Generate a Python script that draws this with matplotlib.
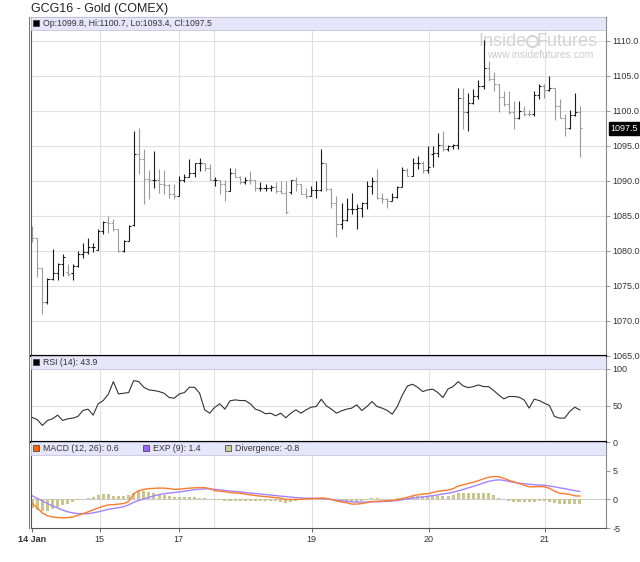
import numpy as np
import matplotlib
matplotlib.use("Agg")
import matplotlib.pyplot as plt
import matplotlib.transforms as mtransforms
from matplotlib.patches import Rectangle
from matplotlib.lines import Line2D
from matplotlib.ticker import FormatStrFormatter

plt.rcParams['font.family'] = ['Liberation Sans', 'DejaVu Sans']
plt.rcParams['axes.unicode_minus'] = False

# hourly OHLC bars, 14 Jan - 21 Jan
opens = [1082.0, 1081.8, 1077.6, 1072.7, 1076.0, 1076.8, 1078.2, 1077.0, 1076.8, 1077.9,
         1079.5, 1079.8, 1080.5, 1080.2, 1082.8, 1084.2, 1084.0, 1083.1, 1080.0, 1081.4,
         1083.7, 1093.9, 1093.2, 1090.3, 1090.1, 1090.1, 1089.6, 1089.4, 1088.1, 1087.9,
         1090.1, 1090.5, 1091.2, 1092.5, 1092.6, 1091.8, 1090.1, 1090.1, 1089.5, 1088.6,
         1091.1, 1090.5, 1089.8, 1090.2, 1090.1, 1089.0, 1089.0, 1089.0, 1089.2, 1088.6,
         1088.3, 1088.4, 1090.1, 1089.5, 1088.1, 1087.9, 1088.7, 1088.7, 1092.6, 1088.8,
         1086.9, 1083.8, 1084.4, 1086.0, 1086.0, 1086.1, 1086.8, 1089.3, 1090.0, 1087.5,
         1087.4, 1087.2, 1087.7, 1089.1, 1091.5, 1090.7, 1092.6, 1092.6, 1091.5, 1093.8,
         1094.0, 1095.2, 1094.5, 1095.0, 1095.2, 1101.8, 1099.8, 1101.2, 1102.1, 1103.6,
         1106.2, 1104.5, 1103.9, 1102.0, 1101.0, 1099.8, 1099.0, 1100.0, 1099.6, 1099.5,
         1102.3, 1103.6, 1103.0, 1103.3, 1100.7, 1099.0, 1097.5, 1099.4, 1099.8]
highs = [1083.6, 1081.9, 1077.6, 1076.2, 1080.3, 1078.3, 1079.5, 1078.2, 1078.2, 1080.0,
         1081.2, 1081.9, 1081.2, 1083.1, 1084.3, 1085.0, 1084.5, 1083.1, 1081.5, 1083.7,
         1097.2, 1097.5, 1094.6, 1091.5, 1094.3, 1091.7, 1091.5, 1089.5, 1089.5, 1090.7,
         1091.0, 1093.1, 1092.6, 1093.3, 1092.6, 1092.4, 1090.5, 1090.2, 1090.2, 1091.9,
         1091.9, 1090.7, 1090.5, 1091.4, 1090.1, 1089.8, 1089.5, 1089.4, 1089.8, 1090.0,
         1090.0, 1090.2, 1090.5, 1089.5, 1089.0, 1089.3, 1090.0, 1094.5, 1092.6, 1089.0,
         1087.9, 1086.8, 1087.6, 1088.3, 1086.7, 1087.0, 1090.0, 1090.6, 1091.7, 1088.3,
         1087.6, 1088.3, 1089.3, 1092.0, 1091.8, 1093.3, 1093.6, 1092.9, 1095.0, 1095.0,
         1096.9, 1097.1, 1095.2, 1095.3, 1103.3, 1103.3, 1102.6, 1103.1, 1104.4, 1110.2,
         1107.2, 1105.6, 1103.9, 1102.8, 1102.8, 1101.4, 1101.4, 1100.7, 1100.2, 1102.9,
         1103.8, 1103.8, 1105.0, 1103.3, 1101.7, 1099.5, 1100.2, 1102.6, 1100.7]
lows = [1081.3, 1076.3, 1071.0, 1072.4, 1075.9, 1075.9, 1076.4, 1076.4, 1075.8, 1077.7,
        1079.0, 1079.6, 1079.8, 1080.1, 1082.4, 1082.6, 1082.8, 1079.8, 1079.9, 1081.4,
        1083.6, 1091.0, 1086.7, 1087.4, 1089.0, 1088.3, 1088.2, 1087.6, 1087.4, 1087.8,
        1089.9, 1090.5, 1090.5, 1091.4, 1091.4, 1090.1, 1089.3, 1088.1, 1087.2, 1088.5,
        1090.5, 1089.5, 1089.5, 1089.5, 1088.6, 1088.6, 1088.6, 1088.5, 1088.3, 1088.3,
        1085.3, 1088.1, 1088.6, 1088.1, 1087.5, 1087.9, 1087.5, 1088.6, 1088.6, 1086.2,
        1082.0, 1083.1, 1084.3, 1085.3, 1083.1, 1084.8, 1086.0, 1088.1, 1087.4, 1086.8,
        1086.2, 1087.1, 1087.6, 1089.1, 1090.7, 1090.7, 1091.7, 1091.2, 1091.2, 1092.0,
        1093.4, 1094.3, 1094.3, 1094.5, 1094.5, 1097.4, 1097.2, 1101.0, 1101.7, 1103.1,
        1104.3, 1102.8, 1099.8, 1100.7, 1099.5, 1097.4, 1098.8, 1099.3, 1099.3, 1099.3,
        1101.7, 1101.8, 1102.9, 1098.7, 1099.0, 1096.4, 1097.4, 1099.3, 1093.4]
closes = [1081.8, 1077.6, 1072.7, 1076.0, 1076.8, 1078.2, 1079.1, 1076.7, 1077.9, 1079.5,
          1079.8, 1080.5, 1080.6, 1082.8, 1084.2, 1084.0, 1083.1, 1080.0, 1081.4, 1083.6,
          1093.9, 1093.2, 1090.3, 1090.1, 1090.1, 1089.6, 1089.4, 1088.1, 1087.9, 1090.1,
          1090.5, 1091.2, 1092.5, 1092.6, 1091.8, 1090.1, 1090.1, 1089.5, 1088.6, 1091.1,
          1090.5, 1089.8, 1090.2, 1090.1, 1089.0, 1089.0, 1089.0, 1089.2, 1088.6, 1088.3,
          1085.5, 1090.1, 1089.5, 1088.1, 1087.9, 1088.7, 1088.7, 1092.6, 1088.8, 1086.9,
          1083.8, 1084.4, 1086.0, 1086.0, 1086.1, 1086.8, 1089.3, 1090.0, 1087.5, 1087.4,
          1087.2, 1087.7, 1089.1, 1091.5, 1090.7, 1092.6, 1092.6, 1091.5, 1092.0, 1094.0,
          1095.2, 1094.5, 1095.0, 1095.2, 1101.8, 1099.8, 1101.2, 1102.1, 1103.6, 1106.2,
          1104.5, 1103.9, 1102.0, 1101.0, 1099.8, 1099.0, 1100.0, 1099.6, 1099.5, 1102.3,
          1103.6, 1103.0, 1103.3, 1100.7, 1099.0, 1097.5, 1099.4, 1099.9, 1097.5]

rsi = [33.6, 30.5, 22.7, 29.5, 31.8, 36.8, 29.5, 31.8, 32.7, 35.0,
       43.2, 45.0, 36.8, 52.3, 56.8, 65.5, 82.7, 65.9, 66.8, 67.7,
       84.1, 82.7, 75.0, 71.4, 70.5, 69.1, 66.8, 60.9, 60.0, 65.9,
       67.7, 75.0, 75.0, 66.8, 44.1, 39.5, 47.7, 52.3, 45.0, 56.4,
       57.7, 56.8, 56.8, 52.3, 45.0, 42.7, 38.6, 39.5, 35.9, 39.5,
       33.2, 39.5, 44.1, 39.5, 44.1, 47.7, 48.6, 58.6, 49.5, 45.0,
       39.5, 42.7, 45.0, 46.4, 50.9, 43.2, 48.6, 55.5, 48.6, 46.4,
       43.2, 38.2, 48.6, 64.5, 76.8, 79.1, 75.0, 69.1, 71.4, 72.3,
       67.7, 60.9, 72.7, 75.9, 82.7, 76.8, 74.5, 75.9, 78.2, 75.9,
       75.9, 70.5, 64.5, 59.1, 62.3, 62.3, 61.4, 57.7, 46.4, 58.6,
       56.8, 53.2, 50.0, 35.0, 32.7, 32.7, 41.8, 47.7, 43.9]

macd = [-0.72, -1.49, -2.40, -2.85, -3.08, -3.17, -3.21, -3.17, -3.08, -2.76,
        -2.49, -2.17, -1.81, -1.49, -1.18, -0.95, -0.90, -0.81, -0.72, -0.36,
        1.00, 1.54, 1.76, 1.90, 1.95, 1.99, 1.99, 1.90, 1.76, 1.81,
        1.90, 1.99, 2.04, 2.08, 2.08, 1.90, 1.54, 1.45, 1.36, 1.22,
        1.13, 1.09, 0.95, 0.81, 0.68, 0.59, 0.50, 0.41, 0.32, 0.23,
        0.00, 0.00, 0.00, 0.05, 0.09, 0.14, 0.18, 0.27, 0.18, 0.00,
        -0.27, -0.45, -0.59, -0.81, -0.81, -0.72, -0.54, -0.36, -0.32, -0.27,
        -0.23, -0.18, -0.05, 0.18, 0.36, 0.63, 0.81, 0.95, 1.00, 1.22,
        1.45, 1.54, 1.63, 1.90, 2.35, 2.58, 2.81, 3.03, 3.30, 3.62,
        3.89, 4.03, 3.98, 3.71, 3.35, 3.08, 2.81, 2.49, 2.22, 2.22,
        2.26, 2.22, 1.95, 1.45, 1.09, 1.00, 0.90, 0.63, 0.60]
signal = [0.63, 0.18, -0.27, -0.72, -1.13, -1.49, -1.86, -2.17, -2.35, -2.49,
          -2.53, -2.49, -2.35, -2.17, -1.95, -1.72, -1.58, -1.45, -1.27, -0.95,
          -0.50, -0.18, 0.09, 0.36, 0.63, 0.86, 1.00, 1.13, 1.22, 1.31,
          1.45, 1.58, 1.72, 1.81, 1.86, 1.86, 1.76, 1.67, 1.58, 1.49,
          1.40, 1.31, 1.22, 1.13, 1.04, 0.95, 0.86, 0.77, 0.68, 0.59,
          0.50, 0.41, 0.32, 0.27, 0.23, 0.23, 0.18, 0.14, 0.09, 0.00,
          -0.14, -0.23, -0.32, -0.41, -0.45, -0.45, -0.45, -0.41, -0.41, -0.36,
          -0.32, -0.27, -0.18, -0.05, 0.09, 0.23, 0.36, 0.45, 0.54, 0.68,
          0.81, 0.95, 1.09, 1.27, 1.49, 1.76, 2.04, 2.31, 2.58, 2.90,
          3.17, 3.35, 3.44, 3.35, 3.17, 2.99, 2.85, 2.76, 2.67, 2.58,
          2.53, 2.49, 2.35, 2.22, 2.04, 1.90, 1.72, 1.54, 1.40]
divergence = [-1.49, -1.81, -2.04, -2.04, -1.72, -1.40, -1.04, -0.72, -0.36, -0.14,
              0.09, 0.18, 0.41, 0.77, 0.90, 0.90, 0.63, 0.63, 0.63, 0.77,
              1.22, 1.67, 1.54, 1.36, 1.22, 1.00, 0.77, 0.54, 0.45, 0.45,
              0.45, 0.41, 0.36, 0.32, 0.23, 0.00, -0.09, -0.18, -0.23, -0.23,
              -0.23, -0.23, -0.27, -0.27, -0.27, -0.27, -0.27, -0.27, -0.27, -0.36,
              -0.59, -0.36, -0.23, -0.18, -0.14, -0.09, 0.00, 0.18, 0.18, 0.00,
              -0.23, -0.45, -0.50, -0.50, -0.36, -0.27, -0.14, 0.18, 0.18, 0.09,
              0.09, 0.00, 0.18, 0.32, 0.41, 0.54, 0.63, 0.63, 0.63, 0.68,
              0.63, 0.54, 0.54, 0.77, 1.09, 1.09, 1.13, 1.13, 1.18, 1.22,
              1.18, 0.86, 0.32, 0.00, -0.23, -0.36, -0.45, -0.50, -0.50, -0.36,
              -0.23, -0.23, -0.36, -0.59, -0.72, -0.81, -0.81, -0.81, -0.80]

# day boundaries (in bar units) and their labels
day_pos = [0, 13.3, 28.9, 35.8, 55.1, 78.2, 101.1]
label_pos = [0, 13.3, 28.9, 55.1, 78.2, 101.1]
label_txt = ['14 Jan', '15', '17', '19', '20', '21']

W, H = 640, 562
LEFT, RIGHT = 31, 606

fig = plt.figure(figsize=(W / 100, H / 100), dpi=100)


def box(top, bottom):
    return [LEFT / W, 1 - bottom / H, (RIGHT - LEFT) / W, (bottom - top) / H]


ax_p = fig.add_axes(box(17, 356))
ax_r = fig.add_axes(box(356, 442), sharex=ax_p)
ax_m = fig.add_axes(box(442, 528), sharex=ax_p)

x = np.arange(len(closes))


def setup(ax, top, bottom):
    for s in ax.spines.values():
        s.set_color('#888888')
        s.set_linewidth(0.8)
    ax.yaxis.tick_right()
    ax.tick_params(axis='y', length=3, width=0.6, colors='#888888',
                   labelcolor='#333333', labelsize=6.5, pad=1.5)
    ax.tick_params(axis='x', length=0, labelbottom=False)
    for d in day_pos[1:]:
        ax.axvline(d, color='#e0e0e0', lw=0.8, zorder=0)
    frac = 12.5 / (bottom - top)
    ax.add_patch(Rectangle((0, 1 - frac), 1, frac, transform=ax.transAxes,
                           facecolor='#e6e6fa', edgecolor='#c4c4dc', lw=0.6, zorder=4))
    return 1 - frac / 2


def header(ax, yc, items):
    for px, col, txt in items:
        xf = (px - LEFT) / (RIGHT - LEFT)
        ax.plot([xf], [yc], marker='s', ms=4, color=col, mec='#333333', mew=0.5,
                transform=ax.transAxes, clip_on=False, zorder=6)
        ax.text(xf + 7 / (RIGHT - LEFT), yc, txt, transform=ax.transAxes, fontsize=6.3,
                color='#333333', va='center', ha='left', zorder=6)


# price panel
yc = setup(ax_p, 17, 356)
ax_p.set_ylim(1065, 1065 + 339 / 7)
ax_p.set_yticks(np.arange(1065, 1111, 5))
ax_p.yaxis.set_major_formatter(FormatStrFormatter('%.1f'))
for v in np.arange(1070, 1111, 5):
    ax_p.axhline(v, color='#e0e0e0', lw=0.8, zorder=0)

cols = ['#1a1a1a' if c >= o else '#9a9a9a' for o, c in zip(opens, closes)]
ax_p.vlines(x, lows, highs, colors=cols, lw=0.8, zorder=2)
ax_p.hlines(opens, x - 0.4, x, colors=cols, lw=0.8, zorder=2)
ax_p.hlines(closes, x, x + 0.4, colors=cols, lw=0.8, zorder=2)
header(ax_p, yc, [(36, 'black', 'Op:%.1f, Hi:%.1f, Lo:%.1f, Cl:%.1f'
                   % (opens[-1], highs[-1], lows[-1], closes[-1]))])

tr = mtransforms.blended_transform_factory(ax_p.transAxes, ax_p.transData)
ax_p.text(1.008, closes[-1], '%.1f' % closes[-1], transform=tr, fontsize=6.5, color='white',
          va='center', ha='left', clip_on=False,
          bbox=dict(facecolor='black', edgecolor='black', pad=1.2))

# watermark
def axf(ax, px, py, top, bottom):
    return (px - LEFT) / (RIGHT - LEFT), (bottom - py) / (bottom - top)

wx, wy = axf(ax_p, 527, 41, 17, 356)
ax_p.text(wx, wy, 'Inside', transform=ax_p.transAxes, fontsize=13, color='#d4d4d4',
          ha='right', va='center', zorder=1)
ax_p.text(wx + 10 / 575, wy, 'Futures', transform=ax_p.transAxes, fontsize=13, color='#d4d4d4',
          ha='left', va='center', zorder=1)
ax_p.plot([wx + 5 / 575], [wy], marker='o', ms=8, mfc='none', mec='#d4d4d4', mew=1.5,
          transform=ax_p.transAxes, zorder=1)
wx2, wy2 = axf(ax_p, 540, 55, 17, 356)
ax_p.text(wx2, wy2, 'www.insidefutures.com', transform=ax_p.transAxes, fontsize=7.5,
          color='#cccccc', ha='center', va='center', zorder=1)

# RSI panel
yc = setup(ax_r, 356, 442)
ax_r.set_ylim(0, 100 + 13 / 0.73)
ax_r.set_yticks([0, 50, 100])
ax_r.axhline(50, color='#e0e0e0', lw=0.8, zorder=0)
ax_r.plot(x, rsi, color='#333333', lw=0.8, zorder=2)
header(ax_r, yc, [(36, 'black', 'RSI (14): %.1f' % rsi[-1])])

# MACD panel
yc = setup(ax_m, 442, 528)
ax_m.set_ylim(-5, 5 + 37 / 7.3)
ax_m.set_yticks([-5, 0, 5])
ax_m.axhline(0, color='#cccccc', lw=0.8, zorder=0)
ax_m.bar(x, divergence, width=0.6, color='#c9c58e', zorder=1)
ax_m.plot(x, signal, color='#a383ff', lw=1.0, zorder=2)
ax_m.plot(x, macd, color='#ff7a2a', lw=1.0, zorder=3)
header(ax_m, yc, [(36, '#ff6600', 'MACD (12, 26): %.1f' % macd[-1]),
                  (146, '#9966ff', 'EXP (9): %.1f' % signal[-1]),
                  (228, '#cccc99', 'Divergence: %.1f' % divergence[-1])])

ax_m.set_xticks(label_pos)
ax_m.set_xticklabels(label_txt)
ax_m.tick_params(axis='x', length=3, width=0.6, colors='#555555', labelcolor='#333333',
                 labelsize=6.5, labelbottom=True, pad=2)
ax_m.get_xticklabels()[0].set_fontweight('bold')
ax_m.set_xlim(-0.25, (RIGHT - 32.3) / 5.07)

# panel separators
ax_p.spines['bottom'].set_color('black')
ax_p.spines['bottom'].set_linewidth(1.5)
for s in ('top', 'bottom'):
    ax_r.spines[s].set_color('black')
    ax_r.spines[s].set_linewidth(1.5)
ax_m.spines['top'].set_color('black')
ax_m.spines['top'].set_linewidth(1.5)
ax_m.spines['bottom'].set_color('#555555')
for ax in (ax_p, ax_r, ax_m):
    ax.spines['left'].set_color('#555555')
fig.add_artist(Line2D([29 / W, 29 / W], [1 - 528 / H, 1 - 17 / H], color='#777777', lw=0.7))

fig.text(31 / W, 1 - 9 / H, 'GCG16 - Gold (COMEX)', fontsize=9, color='#222222',
         va='center', ha='left')

fig.savefig('out.png', dpi=100)
